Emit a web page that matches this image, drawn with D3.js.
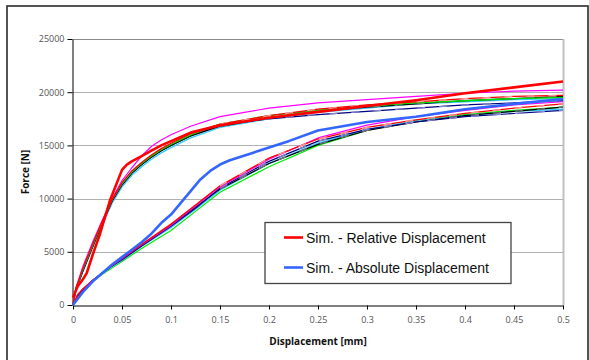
<!DOCTYPE html>
<html><head><meta charset="utf-8">
<script src="https://cdn.jsdelivr.net/npm/d3@7"></script>
<style>body{margin:0;background:#fff}svg{display:block}</style>
</head><body><svg id="c" width="589" height="360"></svg>
<script>
// ---- Data ----
const xTicks = [0,0.05,0.1,0.15,0.2,0.25,0.3,0.35,0.4,0.45,0.5];
const yTicks = [0,5000,10000,15000,20000,25000];
const legendLabels = ["Sim. - Relative Displacement","Sim. - Absolute Displacement"];

// Relative-displacement group (steep curves)
const relX    = [0,0.003,0.01,0.02,0.03,0.04,0.05,0.06,0.07,0.08,0.09,0.1,0.12,0.15,0.2,0.25,0.3,0.35,0.4,0.45,0.5];
const relBlack   = [0,1500,3200,5500,7700,9800,11300,12400,13200,13900,14500,15000,15900,16800,17600,18200,18600,18900,19200,19400,19600];
const relMagenta = [0,1600,3600,5900,8000,10000,11700,12900,14000,14900,15500,16000,16800,17700,18500,19000,19300,19600,19900,20100,20200];
const relGreen   = [0,1500,3300,5600,7800,9900,11400,12500,13300,14000,14600,15100,16000,17000,17800,18300,18700,19000,19200,19400,19500];
const relCyan    = [0,1400,3100,5400,7600,9600,11100,12200,13000,13700,14300,14800,15700,16700,17500,18100,18500,18900,19100,19300,19400];
const relNavy    = [0,1500,3200,5500,7700,9800,11300,12400,13200,13900,14500,15000,15900,16900,17500,17900,18200,18500,18800,19000,19200];
const relRedThin = [0,1600,3400,5700,7900,9900,11500,12600,13400,14100,14700,15200,16100,17000,17800,18400,18800,19100,19400,19600,19700];
const relRedX    = [0,0.005,0.01,0.014,0.02,0.0276,0.038,0.05,0.055,0.06,0.07,0.08,0.09,0.1,0.12,0.15,0.2,0.25,0.3,0.35,0.4,0.45,0.5];
const relRedThick= [700,1800,2400,3000,4700,6700,9900,12700,13200,13500,14000,14500,15000,15400,16200,16900,17600,18150,18700,19250,19900,20450,21000];

// Absolute-displacement group (flatter curves)
const absX    = [0,0.005,0.01,0.02,0.03,0.04,0.05,0.07,0.1,0.125,0.15,0.2,0.25,0.3,0.35,0.4,0.45,0.5];
const absBlack   = [0,900,1400,2300,3000,3700,4300,5600,7500,9200,10900,13300,15100,16400,17200,17800,18200,18600];
const absRedThin = [0,1000,1500,2300,3000,3700,4400,5700,7600,9400,11200,13800,15600,16700,17400,18000,18500,18900];
const absMagenta = [0,1000,1500,2300,3000,3700,4350,5650,7500,9300,11100,13700,15700,16900,17700,18300,18800,19100];
const absGreen   = [0,900,1400,2200,2900,3500,4100,5300,7000,8800,10600,13000,15000,16400,17300,17900,18300,18600];
const absCyan    = [0,900,1400,2300,3000,3600,4200,5500,7300,9000,10800,13300,15200,16500,17300,17800,18200,18400];
const absNavy    = [0,900,1400,2300,3000,3700,4250,5550,7400,9100,11000,13500,15400,16500,17200,17700,18000,18300];
const absBlueX   = [0,0.01,0.02,0.03,0.04,0.05,0.06,0.07,0.08,0.09,0.1,0.11,0.12,0.13,0.14,0.15,0.16,0.18,0.2,0.22,0.25,0.3,0.35,0.4,0.45,0.5];
const absBlueThick=[0,1200,2200,3000,3800,4500,5200,5900,6700,7700,8500,9600,10700,11800,12600,13200,13600,14200,14800,15400,16400,17200,17700,18400,18900,19350];

// ---- Chart ----
const svg = d3.select("#c");
const X0=73, X1=563, Y0=305, Y1=39;
const x = d3.scaleLinear().domain([0,0.5]).range([X0,X1]);
const y = d3.scaleLinear().domain([0,25000]).range([Y0,Y1]);

// outer border
svg.append("rect").attr("x",7).attr("y",6).attr("width",581).attr("height",400)
  .attr("fill","none").attr("stroke","#2a2a2a").attr("stroke-width",1.6);

// gridlines
svg.append("g").selectAll("line").data(yTicks.filter(d=>d>0)).join("line")
  .attr("x1",X0).attr("x2",X1).attr("y1",d=>Math.round(y(d))+0.5).attr("y2",d=>Math.round(y(d))+0.5)
  .attr("stroke",d=>d===25000?"#8a8a8a":"#b0b0b0").attr("stroke-width",1);
// right border of plot
svg.append("line").attr("x1",X1+0.5).attr("x2",X1+0.5).attr("y1",Y1).attr("y2",Y0)
  .attr("stroke","#c0c0c0").attr("stroke-width",2);

// axes
const fmt = d=>String(d);
const gx = svg.append("g").attr("transform",`translate(0,${Y0+0.5})`)
  .call(d3.axisBottom(x).tickValues(xTicks).tickFormat(fmt).tickSize(4).tickSizeOuter(0));
const gy = svg.append("g").attr("transform",`translate(${X0-0.5},0)`)
  .call(d3.axisLeft(y).tickValues(yTicks).tickFormat(fmt).tickSize(5).tickSizeOuter(0));
[gx,gy].forEach(g=>{
  g.select(".domain").attr("stroke","#000");
  g.selectAll(".tick line").attr("stroke","#000");
  g.selectAll("text").attr("fill","#555").style("font-family","'Open Sans',sans-serif").style("font-size","9px");
});
gx.selectAll("text").attr("dy","1.2em");
gy.selectAll("text").attr("x",-8);

// axis titles
svg.append("text").attr("x",(X0+X1)/2).attr("y",345).attr("text-anchor","middle")
  .style("font-family","'Open Sans',sans-serif").style("font-weight","bold").style("font-size","10px")
  .attr("fill","#111").text("Displacement [mm]");
svg.append("text").attr("transform",`translate(29,${(Y0+Y1)/2}) rotate(-90)`).attr("text-anchor","middle")
  .style("font-family","'Open Sans',sans-serif").style("font-weight","bold").style("font-size","10px")
  .attr("fill","#111").text("Force [N]");

// series
const series = [
  {xs:absX, ys:absGreen,   color:"#00ee00", w:1.2},
  {xs:absX, ys:absCyan,    color:"#33ccff", w:1.4},
  {xs:absX, ys:absBlack,   color:"#000000", w:1.2, over:"#777777"},
  {xs:absX, ys:absNavy,    color:"#000080", w:1.2, over:"#8888cc"},
  {xs:absX, ys:absMagenta, color:"#ff00ff", w:1.2},
  {xs:absX, ys:absRedThin, color:"#ff0000", w:1.3, over:"#ff9999"},
  {xs:relX, ys:relCyan,    color:"#33ccff", w:1.4},
  {xs:relX, ys:relNavy,    color:"#000080", w:1.2, over:"#8888cc"},
  {xs:relX, ys:relBlack,   color:"#000000", w:1.3, over:"#777777"},
  {xs:relX, ys:relGreen,   color:"#00dd00", w:1.4},
  {xs:relX, ys:relMagenta, color:"#ff00ff", w:1.2},
  {xs:relX, ys:relRedThin, color:"#ff0000", w:1.3, over:"#ff9999"},
  {xs:absBlueX, ys:absBlueThick, color:"#3366ff", w:2.6},
  {xs:relRedX,  ys:relRedThick,  color:"#ff0000", w:2.6}
];
const line = d3.line().x(d=>x(d[0])).y(d=>y(d[1]));
const gl = svg.append("g");
series.forEach(s=>{
  const pts = s.xs.map((v,i)=>[v,s.ys[i]]);
  gl.append("path").attr("d",line(pts)).attr("fill","none").attr("stroke",s.color)
    .attr("stroke-width",s.w).attr("stroke-linejoin","round");
  if(s.over){
    gl.append("path").attr("d",line(pts.filter(p=>p[0]>=0.15))).attr("fill","none").attr("stroke",s.over)
      .attr("stroke-width",s.w).attr("stroke-dasharray","8,14");
  }
});

// legend
const lg = svg.append("g");
lg.append("rect").attr("x",265).attr("y",222.5).attr("width",246).attr("height",61)
  .attr("fill","#fff").attr("stroke","#444").attr("stroke-width",1.3);
const legColors = ["#ff0000","#3366ff"];
legendLabels.forEach((t,i)=>{
  const ly = 237.5 + i*30;
  lg.append("line").attr("x1",284).attr("x2",303).attr("y1",ly).attr("y2",ly)
    .attr("stroke",legColors[i]).attr("stroke-width",2.6);
  lg.append("text").attr("x",306).attr("y",ly+5).text(t)
    .style("font-family","'Liberation Sans',Arial,sans-serif").style("font-size","14px").attr("fill","#111");
});
</script></body></html>
